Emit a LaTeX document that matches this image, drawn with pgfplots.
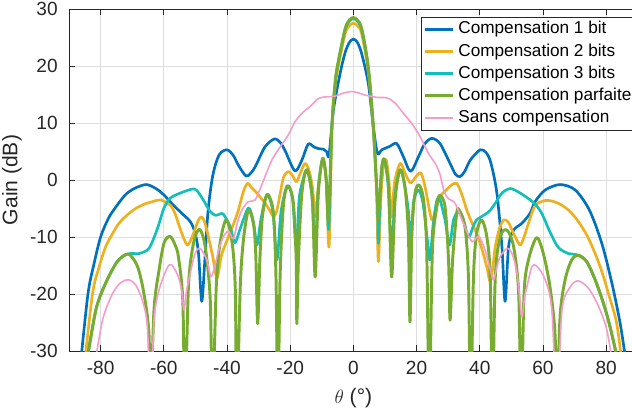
\documentclass[border=0pt]{standalone}
\usepackage{fontspec}
\setmainfont{Liberation Sans}
\usepackage{pgfplots}
\pgfplotsset{compat=1.18}
\definecolor{c1}{HTML}{0072BD}
\definecolor{c2}{HTML}{EDB120}
\definecolor{c3}{HTML}{12BFBA}
\definecolor{c4}{HTML}{77AC30}
\definecolor{c5}{HTML}{F59CC8}
\definecolor{axc}{HTML}{262626}
\begin{document}
\begin{tikzpicture}
\useasboundingbox (-51.75pt,-45.75pt) rectangle (422.25pt,263.25pt);
\begin{axis}[
  scale only axis, width=426.6pt, height=256.5pt,
  at={(0,0)}, anchor=south west,
  xmin=-90, xmax=90, ymin=-30, ymax=30,
  xtick={-80,-60,...,80}, ytick={-30,-20,...,30},
  ytick pos=left,
  tick align=inside,
  major tick length=4.3pt,
  grid=major,
  major grid style={color=black!13, line width=0.5pt},
  axis line style={color=axc, line width=0.5pt},
  tick style={color=axc, line width=0.5pt},
  tick label style={font=\fontsize{14.3}{17}\selectfont, color=axc},
  /pgf/number format/assume math mode=true,
  xticklabel style={yshift=-4pt},
  yticklabel style={xshift=-5pt},
  xlabel={$\theta$ (°)},
  ylabel={Gain (dB)},
  label style={font=\fontsize{15.8}{19}\selectfont, color=axc},
  xlabel style={at={(axis description cs:0.5,-0.1387)}, anchor=center},
  ylabel style={at={(axis description cs:-0.1002,0.5)}, anchor=center},
  legend style={at={(axis description cs:0.6184,0.9766)}, anchor=north west,
    draw=axc, line width=0.5pt, fill=white, text=black,
    font=\fontsize{12.9}{15}\selectfont,
    inner xsep=1.5pt, inner ysep=3pt, row sep=4.5pt,
    cells={anchor=west},
    nodes={inner xsep=2.75pt, inner ysep=0pt, text height=9.4pt, text depth=2.7pt}},
  legend image code/.code={\draw[#1] (0pt,0pt) -- (21.5pt,0pt);},
  every axis plot/.append style={smooth, tension=0.5, line join=round},
]
% Compensation 1 bit
\addplot[c1, line width=2pt] coordinates {
(-86.5,-33) (-84,-20) (-82,-14.5) (-80,-10) (-77.5,-6.7) (-75,-4.6) (-72,-2.5)
(-69,-1.4) (-65.5,-0.8) (-62.5,-1.5) (-60,-2.6) (-57,-4.4) (-54,-6.0) (-51.5,-7.4)
(-50,-9.5) (-49,-13) (-48,-21.3) (-47,-14) (-46,-5.5) (-44.5,0.8) (-42.5,4.4)
(-40,5.3) (-38,4.3) (-36.4,2.6) (-34,0.7) (-32.5,1.2) (-31,2.4) (-28,5.8)
(-25,7.2) (-23,6.5) (-21.5,5.0) (-18.5,1.6) (-16.3,3.5) (-14.3,6.3) (-12.5,5.8)
(-11,5.5) (-9.5,5.4) (-8.5,5.0) (-7.7,4.4) (-6.3,12.3) (-4.2,18.7) (-2.6,22.4)
(-1.2,24.2) (0,24.7) (1.2,24.2) (2.6,22.2) (4.7,17.0) (6.3,9.4) (7.6,4.7)
(9,5.3) (11.5,5.9) (13.7,6.4) (15.8,4.1) (18.1,1.5) (20.6,4.1) (22.5,6.3)
(24.8,7.3) (27.4,6.4) (30.6,2.9) (32.3,1.0) (33.8,0.6) (35.3,1.6) (37,3.5)
(40.1,5.3) (42,4.8) (43.5,3.0) (45.4,-2.3) (47,-11.7) (48,-21.3) (49.1,-11.7)
(50.7,-8.8) (53.3,-7.6) (55.9,-5.85) (57.5,-3.8) (60.7,-1.75) (65.4,-0.8)
(70.2,-1.75) (74.7,-5.3) (78.6,-11.1) (81.8,-18.1) (84.4,-25.1) (86.3,-32)
};
\addlegendentry{Compensation 1 bit}
% Compensation 2 bits
\addplot[c2, line width=2pt] coordinates {
(-85.2,-33) (-82.6,-20.1) (-80.5,-15.3) (-78.4,-11.7) (-76,-9.2) (-74.2,-7.6)
(-71.5,-6.1) (-68.9,-5.0) (-66,-4.2) (-63.6,-3.8) (-61,-3.5) (-58,-4.4)
(-56.5,-5.8) (-55.4,-7.6) (-54,-9.8) (-52.6,-11.4) (-51.5,-10.6) (-50.6,-9.35)
(-49,-7.0) (-48,-6.5) (-47,-7.5) (-45.9,-9.9) (-44.5,-13.5) (-43.2,-17.2)
(-42.2,-14.5) (-41.6,-12.9) (-39.5,-9.9) (-38,-7.8) (-36.4,-5.3) (-34.8,-2.0)
(-33.5,-0.6) (-32.3,-1.3) (-31,-2.0) (-29.5,-3.0) (-27.9,-4.1) (-26.5,-5.3)
(-25.3,-6.4) (-24.3,-5.5) (-23.2,-2.5) (-22.1,0.5) (-20.6,1.5) (-19.3,0.8)
(-18,-0.3) (-16.8,1.2) (-15.3,2.9) (-14,1.6) (-12.9,-1.5) (-12.1,-6.5)
(-11.2,-1.5) (-10.3,2.3) (-9.5,3.5) (-8.6,0) (-7.7,-11.7) (-6.8,8.8)
(-5.7,16.8) (-4.7,20.2) (-2.6,25.7) (-1.2,27.1) (0,27.5) (1.2,27.1) (2.6,25.7)
(4.7,19.0) (6.3,8.8) (7.3,-2) (7.9,-14.3) (8.7,-3) (9.5,2.3) (10.4,3.5)
(11.3,-0.5) (12.1,-6.5) (13.0,-0.5) (14.8,2.9) (16.5,1.0) (18.1,-0.5)
(19.8,0.6) (21.4,1.2) (22.8,-1.5) (24.8,-7.0) (26.2,-4.8) (27.4,-2.9)
(29.5,-1.7) (31,-0.9) (32.7,-0.6) (34.3,-2.5) (35.9,-5.3) (37.5,-7.5)
(39,-9.4) (40.5,-11.8) (42.2,-15.2) (43.3,-17.8) (44.3,-14.5) (44.9,-11.7)
(46.2,-8.5) (47.6,-7.0) (49,-7.4) (50.2,-8.8) (51.5,-10.3) (52.8,-11.4)
(54,-10) (55.4,-7.6) (57.5,-4.5) (60.7,-3.6) (63.5,-3.8) (65.9,-4.4)
(68.5,-5.5) (71.2,-7.3) (74,-9.8) (76.5,-12.9) (78.7,-16.2) (80.7,-19.9)
(83.3,-25.1) (85.2,-33)
};
\addlegendentry{Compensation 2 bits}
% Compensation 3 bits
\addplot[c3, line width=2pt] coordinates {
(-84.7,-33) (-81.5,-22.8) (-78.4,-18.1) (-74.7,-14.3) (-71.5,-13.0)
(-69.5,-12.9) (-67.8,-12.9) (-64.7,-12.0) (-62,-8.5) (-60,-5.0) (-58,-3.2)
(-54.8,-2.3) (-51.1,-1.6) (-49.6,-1.8) (-47.5,-3.5) (-45.3,-5.55) (-43.5,-6.2)
(-42,-5.9) (-41,-6.1) (-39,-8.2) (-37.5,-11) (-35.8,-8.5) (-33.2,-4.9)
(-31.6,-7.5) (-30.5,-11.4) (-29.3,-7) (-27.4,-2.6) (-25.5,-5.5) (-24.2,-14)
(-23,-6) (-21.5,-1.8) (-20.6,-1.0) (-19.2,-3.5) (-18.1,-12) (-17.2,-3.5)
(-16.2,-0.5) (-14.7,1.8) (-13.1,-2.5) (-12.1,-12) (-11.1,-1.5) (-9.7,3.8)
(-8.6,0) (-7.8,-8.6) (-6.8,9.4) (-5.7,17.4) (-4.7,20.9) (-2.6,26.4)
(-1.2,27.9) (0,28.3) (1.2,27.9) (2.6,26.4) (4.7,19.7) (6.3,9.2) (7.6,-4)
(7.9,-11.1) (8.5,-2) (9.0,2.3) (9.8,3.6) (11,-1) (12.1,-12) (13.2,-2.5)
(14.8,1.8) (16.3,-1.2) (17.5,-6) (18.2,-12) (19,-4) (20.6,-1.75) (22,-4)
(23.3,-10) (24.2,-14) (25.2,-8) (26.4,-3.6) (27.4,-3.5) (29,-7) (30.4,-11.4)
(31.7,-7.0) (33.3,-5.6) (35,-7.5) (36.5,-10) (38,-8) (39,-7.0) (40.6,-6.4)
(42.2,-5.85) (43.3,-5.3) (44.9,-4.1) (47.0,-2.3) (49.7,-1.5) (52.8,-2.3)
(56.0,-3.5) (57.5,-4.2) (59.6,-5.85) (62.2,-9.1) (64.8,-11.8) (68.0,-12.9)
(70.7,-13.1) (73.8,-14.3) (76.5,-17.5) (79.1,-21.6) (81.2,-25.7) (84.2,-33)
};
\addlegendentry{Compensation 3 bits}
% Compensation parfaite
\addplot[c4, line width=2.2pt] coordinates {
(-84.7,-33) (-81.5,-22.8) (-78.4,-18.1) (-74.7,-14.3) (-71.2,-13.0)
(-68.3,-15.2) (-66.3,-19.9) (-64.7,-26.9) (-64.2,-40) (-63.1,-22.8)
(-61.5,-15.8) (-59.9,-11.0) (-58,-9.9) (-56.5,-11.3) (-55.4,-13.4) (-54,-21.0)
(-53.3,-40) (-52.2,-18.7) (-50.6,-11.1) (-48.7,-8.65) (-46.9,-11.7)
(-45.3,-21.0) (-44.6,-40) (-43.4,-18.7) (-42.2,-11.1) (-40.3,-7.0)
(-38.5,-10.5) (-37.4,-18.7) (-36.9,-40) (-35.8,-18.7) (-34.8,-10.5)
(-33.2,-5.3) (-31.6,-7.8) (-30.9,-13) (-30.3,-25.2) (-29.6,-14) (-28.9,-7)
(-27.9,-3.5) (-26.9,-2.6) (-25.3,-5.85) (-24.5,-17) (-23.9,-40) (-23.2,-17)
(-22.1,-4.1) (-20.6,-1.05) (-19.0,-4.1) (-18.1,-14.0) (-17.9,-25.2)
(-17.4,-14) (-16.3,-2.3) (-14.7,1.8) (-13.0,-3.5) (-12.1,-17) (-11.1,-2.3)
(-9.7,3.8) (-8.6,0) (-7.9,-7.0) (-6.8,9.4) (-5.7,17.5) (-4.7,21.0)
(-2.6,26.6) (-1.2,28.1) (0,28.5) (1.2,28.1) (2.6,26.6) (4.7,19.9) (6.3,9.4)
(7.6,-3.5) (7.9,-7.0) (8.5,-2) (9.0,2.3) (9.8,3.6) (11.1,-1.2) (12.1,-17)
(13.2,-3.5) (14.8,1.8) (16.3,-1.2) (17.4,-9.4) (17.9,-24.9) (18.5,-9.4)
(19.5,-2.3) (20.8,-0.9) (22.2,-3.5) (23.2,-12.3) (24.0,-40) (25.0,-12.3)
(26.4,-4.7) (27.3,-2.7) (29.0,-4.7) (30.1,-14.0) (30.6,-24.6) (31.4,-14)
(32.7,-5.85) (33.5,-5.3) (35.3,-8.2) (36.4,-17) (37.1,-40) (38.0,-17)
(39.0,-9.4) (40.6,-7.0) (42.2,-9.9) (43.3,-17) (44.0,-40) (44.9,-17)
(46.5,-9.9) (48.6,-8.8) (50.7,-11.7) (52.3,-19.9) (53.1,-40) (54.0,-19.9)
(55.4,-14.0) (58.0,-10.1) (60.1,-12.9) (62.2,-18.7) (63.8,-26.9) (64.4,-40)
(65.4,-24) (67.0,-17.5) (69.1,-14.0) (71.2,-13.2) (73.8,-14.3) (76.5,-17.5)
(79.1,-21.6) (81.2,-25.7) (84.2,-33)
};
\addlegendentry{Compensation parfaite}
% Sans compensation
\addplot[c5, line width=1.2pt] coordinates {
(-82,-33) (-79.4,-24.6) (-76.2,-19.9) (-73.6,-18.0) (-71.2,-17.5) (-68.9,-18.4)
(-66.8,-21.1) (-65.2,-25.7) (-64.2,-40) (-63.1,-24.6) (-61.5,-19.3)
(-59,-15.5) (-57.5,-14.9) (-55.4,-16.95) (-54.3,-19.5) (-53.6,-22.8)
(-52.8,-19.5) (-51.7,-16.5) (-50.1,-12.9) (-48.5,-12.0) (-46.4,-14.0)
(-45.1,-16.95) (-43.8,-15) (-42.5,-12) (-41,-9.8) (-39.5,-9.0) (-38,-10.3)
(-36.5,-7) (-35,-5) (-33.2,-3.8) (-31.1,-3.5) (-29.5,-1.5) (-28.4,0)
(-25.8,3.5) (-23.2,5.8) (-20.6,7.9) (-18.5,10.2) (-16.3,11.7) (-13.7,12.9)
(-11.1,14.3) (-8.4,14.6) (-5.8,14.7) (-3.5,15.2) (-1.1,15.5) (0,15.5)
(1.5,15.3) (3.7,14.9) (7.4,14.5) (10.6,14.4) (13.2,13.5) (15.8,11.7)
(18.5,9.9) (21.1,7.6) (23.7,4.7) (25.9,2.9) (27.4,1.0) (28.7,-2.0)
(30.1,-3.3) (32.2,-4.1) (34.8,-7.6) (37.5,-10.8) (39.6,-9.9) (41.5,-12)
(43,-15) (44.3,-17.5) (45.3,-15.5) (46.4,-13.5) (48.6,-12.0) (50.2,-12.9)
(51.5,-15.5) (52.3,-18.7) (53.3,-24) (54.2,-20.5) (55.0,-18.5) (56.5,-15.2)
(58.0,-15.1) (60.7,-17.5) (62.8,-22.8) (64.4,-40) (66.0,-22.8) (68.7,-18.7)
(71.2,-17.7) (74.4,-19.0) (77.6,-22.2) (80.2,-26.3) (82.3,-33)
};
\addlegendentry{Sans compensation}
\end{axis}
\end{tikzpicture}
\end{document}
